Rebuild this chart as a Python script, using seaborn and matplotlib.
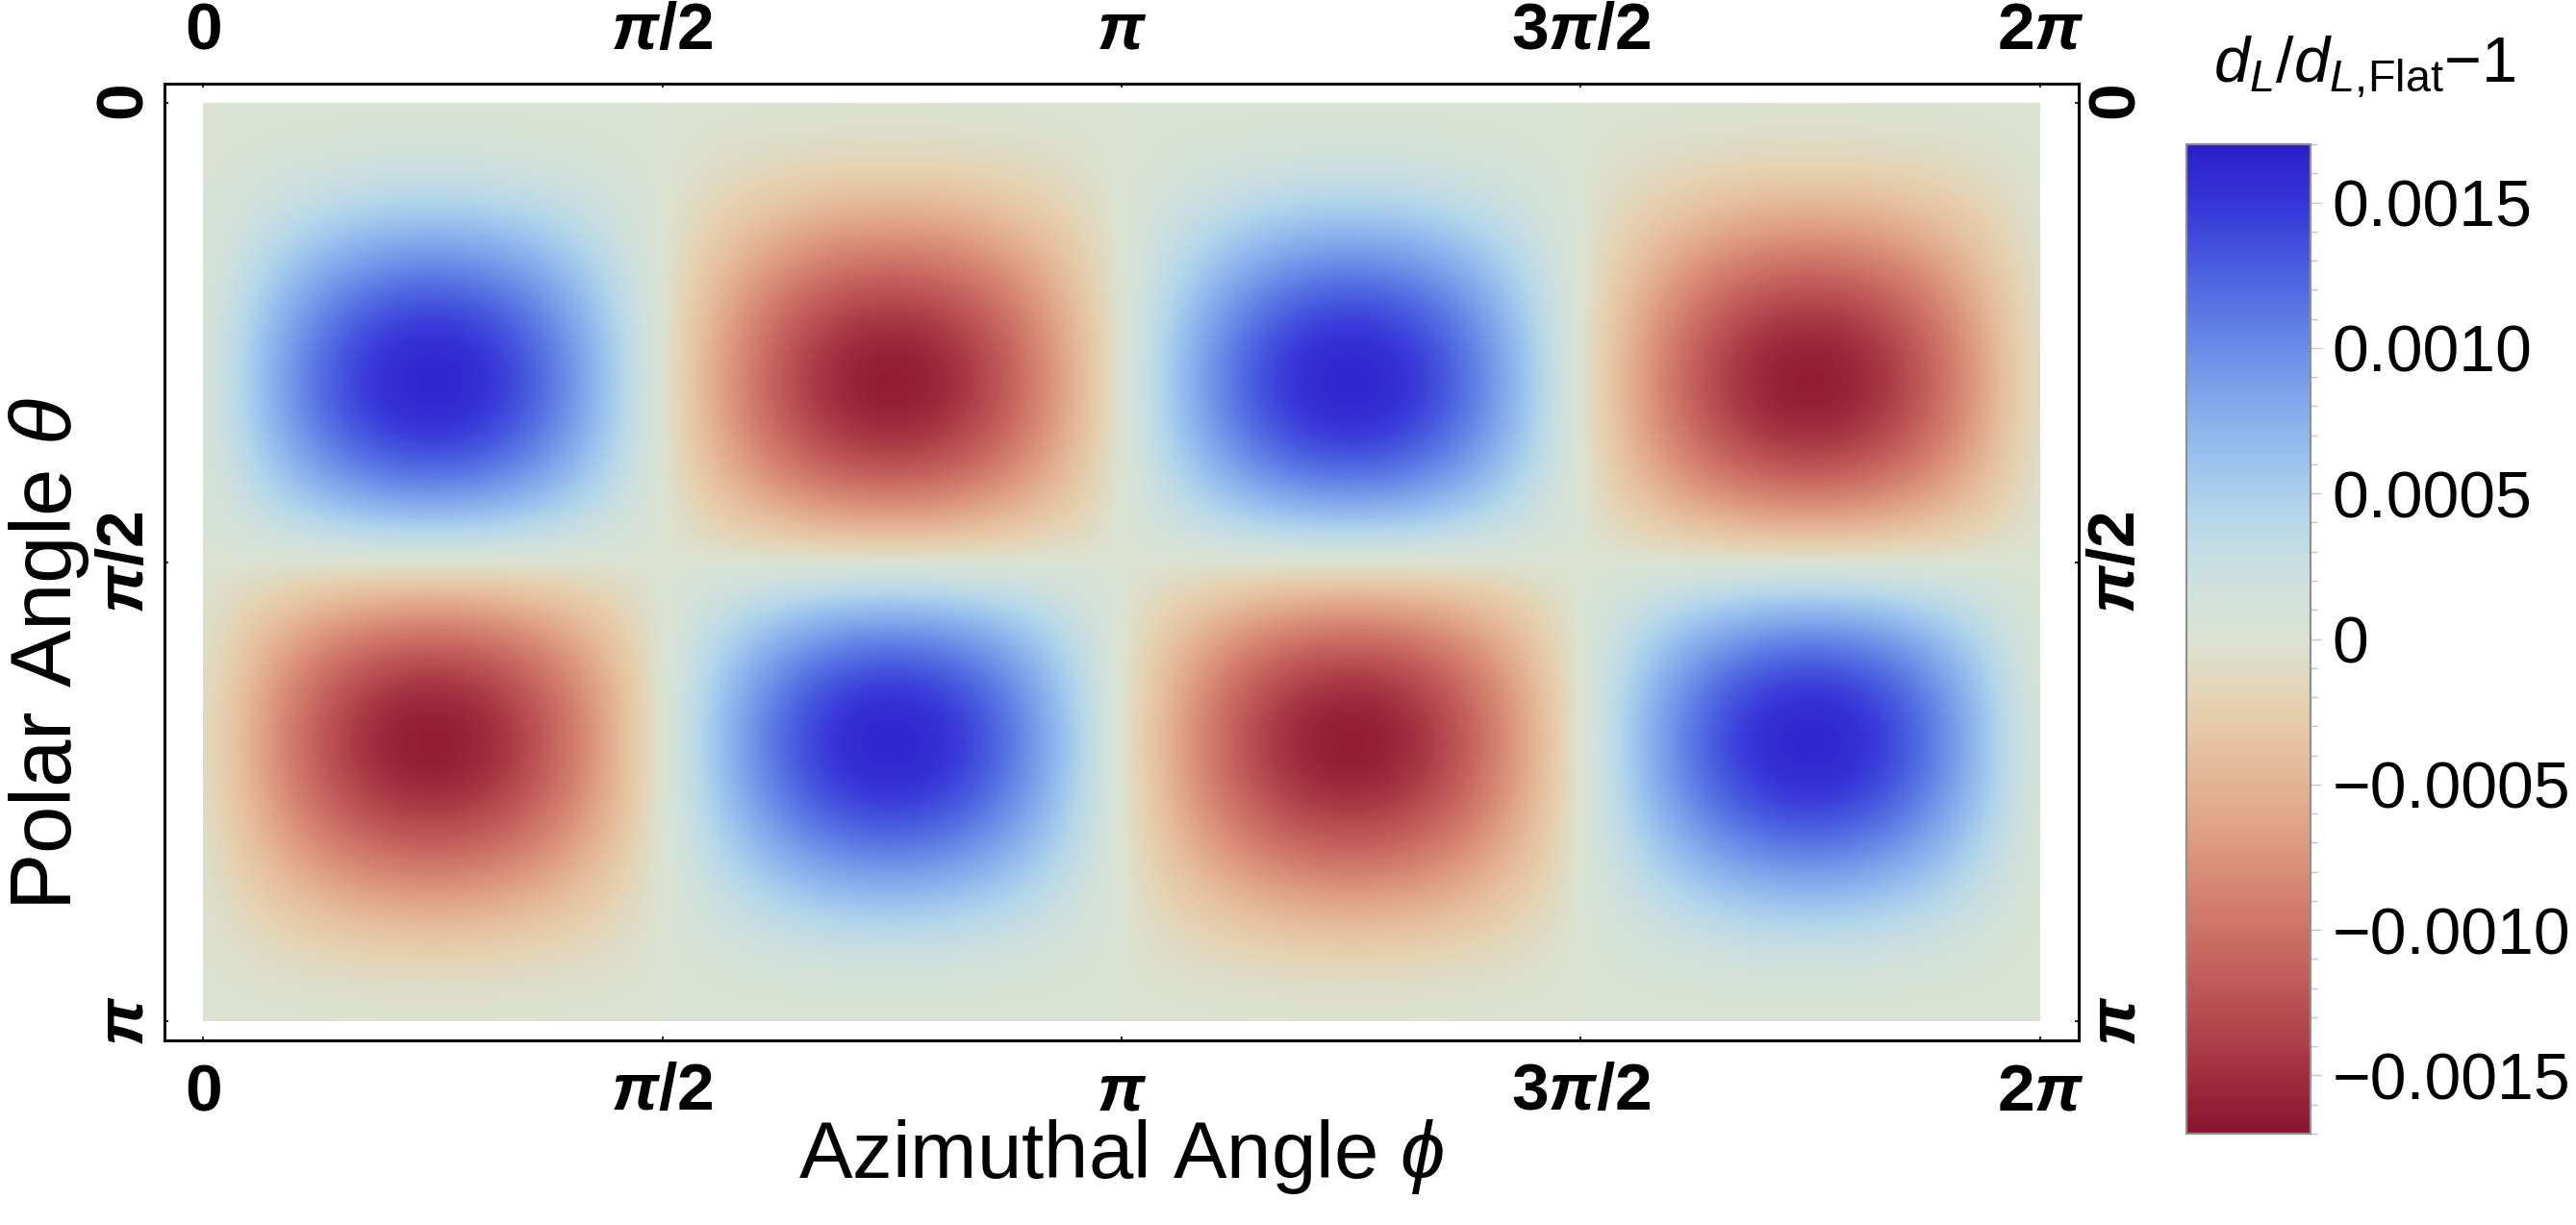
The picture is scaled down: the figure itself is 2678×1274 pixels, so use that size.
import numpy as np
import matplotlib
matplotlib.use('Agg')
import matplotlib.pyplot as plt
import seaborn as sns
from matplotlib.patches import Rectangle
from matplotlib.ticker import MultipleLocator

# field: theta profile x phi profile, amplitude from colour bar
theta_nodes_deg = [0, 7.5, 15, 22.5, 30, 37.5, 45, 52.5, 60, 67.5, 75, 82.5, 90,
                   97.5, 105, 112.5, 120, 127.5, 135, 142.5, 150, 157.5, 165, 172.5, 180]
theta_profile = [0, 0.0439, 0.1681, 0.3515, 0.5625, 0.7638, 0.9186, 0.9955, 0.9743,
                 0.8486, 0.6274, 0.3333, 0, -0.3333, -0.6274, -0.8486, -0.9743,
                 -0.9955, -0.9186, -0.7638, -0.5625, -0.3515, -0.1681, -0.0439, 0]
phi_nodes_deg = [i * 11.25 for i in range(33)]
phi_profile = [0, 0.3827, 0.7071, 0.9239, 1, 0.9239, 0.7071, 0.3827,
               0, -0.3827, -0.7071, -0.9239, -1, -0.9239, -0.7071, -0.3827,
               0, 0.3827, 0.7071, 0.9239, 1, 0.9239, 0.7071, 0.3827,
               0, -0.3827, -0.7071, -0.9239, -1, -0.9239, -0.7071, -0.3827, 0]
amplitude = 0.0017

x_ticks = [0, np.pi / 2, np.pi, 3 * np.pi / 2, 2 * np.pi]
x_ticklabels = [r'$\mathbf{0}$', r'$\mathbfit{\pi}\mathbf{/2}$', r'$\mathbfit{\pi}$',
                r'$\mathbf{3}\mathbfit{\pi}\mathbf{/2}$', r'$\mathbf{2}\mathbfit{\pi}$']
y_ticks = [0, np.pi / 2, np.pi]
y_ticklabels = [r'$\mathbf{0}$', r'$\mathbfit{\pi}\mathbf{/2}$', r'$\mathbfit{\pi}$']
cbar_ticks = [0.0015, 0.0010, 0.0005, 0, -0.0005, -0.0010, -0.0015]
cbar_ticklabels = ['0.0015', '0.0010', '0.0005', '0', '\u22120.0005', '\u22120.0010', '\u22120.0015']

sns.set_style('white')
plt.rcParams['font.family'] = ['Liberation Sans', 'DejaVu Sans']
plt.rcParams['mathtext.fontset'] = 'custom'
plt.rcParams['mathtext.rm'] = 'Liberation Sans'
plt.rcParams['mathtext.it'] = 'Liberation Sans:italic'
plt.rcParams['mathtext.bf'] = 'Liberation Sans:bold'
plt.rcParams['mathtext.bfit'] = 'Liberation Sans:bold:italic'
plt.rcParams['text.color'] = 'black'
plt.rcParams['xtick.color'] = 'black'
plt.rcParams['ytick.color'] = 'black'

# temperature-like map, red (negative) -> beige -> blue (positive)
cmap = sns.blend_palette(['#8a1430', '#a3303f', '#b84f53', '#c96a62', '#d68672', '#e0a386',
                          '#e5bd9c', '#e5d2b2', '#dbe3d3', '#cde0df', '#b5d7ea', '#98c0ee',
                          '#7fa3ea', '#6283e6', '#4a5fe0', '#3838d8', '#2a1fc9'], as_cmap=True)

field = amplitude * np.outer(theta_profile, phi_profile)
theta = np.deg2rad(theta_nodes_deg)
phi = np.deg2rad(phi_nodes_deg)
dth = theta[1] - theta[0]
dph = phi[1] - phi[0]

fig = plt.figure(figsize=(13.39, 6.37), dpi=200)
ax = fig.add_axes([171 / 2678, 1 - 1082 / 1274, 1990 / 2678, 995 / 1274])
im = ax.imshow(field, cmap=cmap, vmin=-amplitude, vmax=amplitude, interpolation='bicubic',
               origin='upper', aspect='auto',
               extent=[phi[0] - dph / 2, phi[-1] + dph / 2, theta[-1] + dth / 2, theta[0] - dth / 2])
im.set_clip_path(Rectangle((phi[0], theta[0]), phi[-1] - phi[0], theta[-1] - theta[0],
                           transform=ax.transData))
ax.set_xlim(-0.1316, 2 * np.pi + 0.1316)
ax.set_ylim(np.pi + 0.0658, -0.0658)

for s in ax.spines.values():
    s.set_linewidth(1.1)
    s.set_color('black')

ax.set_xticks(x_ticks)
ax.set_xticklabels(x_ticklabels)
ax.set_yticks(y_ticks)
ax.set_yticklabels(y_ticklabels)
ax.tick_params(axis='x', top=True, labeltop=True, bottom=True, labelbottom=True,
               direction='in', length=1.5, width=0.6, pad=8, labelsize=25, labelcolor='black')
ax.tick_params(axis='y', left=True, right=True, labelleft=True, labelright=True,
               direction='in', length=1.5, width=0.6, pad=3, labelsize=25, labelrotation=90,
               labelcolor='black')
for t in ax.yaxis.get_major_ticks():
    t.label1.set_va('center')
    t.label2.set_va('center')

fig.text(1166 / 2678, 1 - 1203 / 1274, r'Azimuthal Angle $\phi$', ha='center', va='center',
         fontsize=30, color='black')
fig.text(51 / 2678, 1 - 680 / 1274, r'Polar Angle $\theta$', ha='center', va='center',
         rotation=90, fontsize=32, color='black')

cax = fig.add_axes([2273 / 2678, 1 - 1179 / 1274, 129 / 2678, 1029 / 1274])
cb = fig.colorbar(im, cax=cax)
cb.set_ticks(cbar_ticks)
cb.set_ticklabels(cbar_ticklabels)
cax.yaxis.set_minor_locator(MultipleLocator(0.0001))
cax.tick_params(which='major', length=4, width=0.5, color='#c4c4c4', labelsize=24.5, pad=4,
                labelcolor='black')
cax.tick_params(which='minor', length=2.5, width=0.5, color='#c4c4c4')
cb.outline.set_edgecolor('#909090')
cb.outline.set_linewidth(0.8)

fig.text(2458 / 2678, 1 - 70 / 1274, '$d_L/d_{L,\\!\\mathrm{Flat}}$\u22121', ha='center', va='center',
         fontsize=24, color='black')

fig.savefig('out.png', dpi=200)
